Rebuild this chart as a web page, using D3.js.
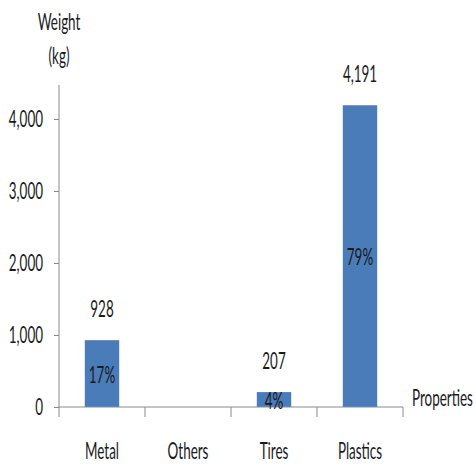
<!DOCTYPE html>
<html>
<head>
<meta charset="utf-8">
<script src="https://cdn.jsdelivr.net/npm/d3@7"></script>
<style>
  html, body { margin: 0; padding: 0; background: #fff; }
  svg { display: block; }
  text { font-family: Lato, "Liberation Sans", sans-serif; fill: #1a1a1a; }
</style>
</head>
<body>
<svg id="chart" width="476" height="466"></svg>
<script>
// Waste composition by weight
const categories = ["Metal", "Others", "Tires", "Plastics"];
const weights = [928, 0, 207, 4191];
const yTicks = [0, 1000, 2000, 3000, 4000];

const svg = d3.select("#chart");
const FS = 24;      // font size
const SX = 0.56;    // horizontal squeeze for the narrow lettering

const plotLeft = 59, plotRight = 403, plotBase = 407, plotTop = 83;

const x = d3.scaleBand().domain(categories).range([plotLeft, plotRight]).paddingInner(0.6).paddingOuter(0.3);
const xOuter = d3.scaleBand().domain(categories).range([plotLeft, plotRight]);
const y = d3.scaleLinear().domain([0, 4500]).range([plotBase, plotTop]);

const axisColor = "#8a8a8a";
const total = d3.sum(weights);
const fmt = d3.format(",");

function label(g, tx, ty, str, anchor) {
  g.append("text")
    .attr("transform", `translate(${tx},${ty}) scale(${SX},1)`)
    .attr("text-anchor", anchor || "middle")
    .attr("font-size", FS)
    .text(str);
}

// bars
svg.append("g").selectAll("rect")
  .data(categories.map((c, i) => ({ c, v: weights[i] })).filter(d => d.v > 0))
  .join("rect")
  .attr("x", d => x(d.c))
  .attr("width", x.bandwidth())
  .attr("y", d => y(d.v))
  .attr("height", d => y(0) - y(d.v))
  .attr("fill", "#4a7cb9");

// y axis
const yAxis = svg.append("g")
  .attr("transform", `translate(${plotLeft},0)`)
  .call(d3.axisLeft(y).tickValues(yTicks).tickSize(5).tickFormat(() => ""));
yAxis.select(".domain").attr("stroke", axisColor).attr("d", `M0,${plotTop + 2}V${plotBase}`);
yAxis.selectAll(".tick line").attr("stroke", axisColor);
const yl = svg.append("g");
yTicks.forEach(t => label(yl, 43, y(t) + 8, fmt(t), "end"));

// x axis with boundary ticks between categories
const xAxis = svg.append("g").attr("transform", `translate(0,${plotBase})`);
xAxis.append("path").attr("d", `M${plotLeft},0H${plotRight}`).attr("stroke", axisColor).attr("stroke-width", 1.2).attr("fill", "none");
const bounds = categories.map(c => xOuter(c)).concat([xOuter(categories[categories.length - 1]) + xOuter.bandwidth()]);
xAxis.selectAll("line").data(bounds).join("line")
  .attr("x1", d => d).attr("x2", d => d).attr("y1", 0).attr("y2", 10)
  .attr("stroke", axisColor);
const xl = svg.append("g");
categories.forEach(c => label(xl, xOuter(c) + xOuter.bandwidth() / 2, 459, c));

// value and share labels
const vl = svg.append("g");
categories.forEach((c, i) => {
  const v = weights[i];
  if (v <= 0) return;
  const cx = x(c) + x.bandwidth() / 2;
  label(vl, cx, y(v) - 23, fmt(v));
  const share = Math.round(v / total * 100) + "%";
  label(vl, cx, (y(v) + y(0)) / 2 + 9, share);
});

// axis titles
label(svg, 59, 30, "Weight");
label(svg, 59, 64, "(kg)");
label(svg, 412, 406, "Properties", "start");
</script>
</body>
</html>
